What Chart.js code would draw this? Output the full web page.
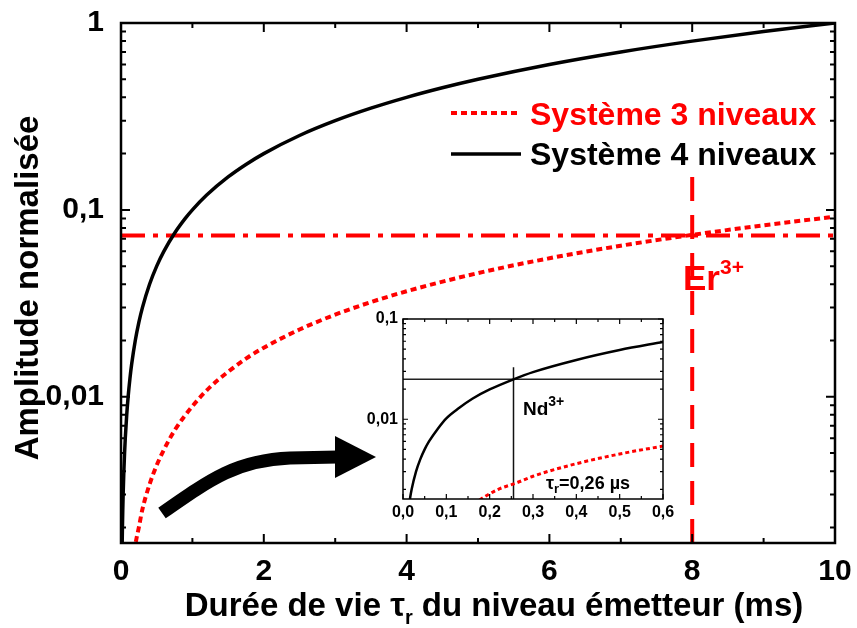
<!DOCTYPE html>
<html>
<head>
<meta charset="utf-8">
<script src="https://cdn.jsdelivr.net/npm/chart.js@4/dist/chart.umd.min.js"></script>
<style>
  body { margin: 0; background: #fff; }
  #wrap { position: relative; width: 857px; height: 628px; }
  #mainChart { position: absolute; left: 0; top: 0; }
  #insetChart { position: absolute; left: 360px; top: 305px; }
</style>
</head>
<body>
<div id="wrap">
  <canvas id="mainChart" width="857" height="628"></canvas>
  <canvas id="insetChart" width="320" height="225"></canvas>
</div>
<script>
// main plot : lifetime (ms) vs normalised amplitude
const tau4 = [0.012, 0.015, 0.02, 0.025, 0.03, 0.04, 0.05, 0.06, 0.08, 0.1, 0.125, 0.15, 0.2, 0.25, 0.3, 0.4, 0.5, 0.6, 0.75, 0.9, 1, 1.2, 1.5, 1.75, 2, 2.5, 3, 3.5, 4, 4.5, 5, 6, 7, 8, 9, 10];
const amp4 = [0.0012, 0.0015, 0.002, 0.0025, 0.003, 0.004, 0.005, 0.006, 0.008, 0.01, 0.0125, 0.015, 0.02, 0.025, 0.03, 0.04, 0.05, 0.06, 0.075, 0.09, 0.1, 0.12, 0.15, 0.175, 0.2, 0.25, 0.3, 0.35, 0.4, 0.45, 0.5, 0.6, 0.7, 0.8, 0.9, 1];
const tau3 = [0.12, 0.15, 0.2, 0.25, 0.3, 0.4, 0.5, 0.6, 0.75, 1, 1.25, 1.5, 1.75, 2, 2.5, 3, 3.5, 4, 5, 6, 7, 8, 9, 10];
const amp3 = [0.0008, 0.0011, 0.0016, 0.002, 0.0025, 0.0034, 0.0043, 0.0052, 0.0066, 0.0089, 0.0113, 0.0136, 0.016, 0.0183, 0.0229, 0.0275, 0.0321, 0.0367, 0.0459, 0.0551, 0.0643, 0.0735, 0.0827, 0.092];
const erLevel = 0.073;   // horizontal dash-dot line
const erTau = 8;         // vertical dashed line
const erTop = 0.15;
const xTicksMain = [0, 2, 4, 6, 8, 10];
const yTicksMain = [0.01, 0.1, 1];
const seriesLabels = ['Système 3 niveaux', 'Système 4 niveaux'];

// inset : zoom on the first 0.6
const tauIn4 = [0.012, 0.016, 0.02, 0.03, 0.04, 0.05, 0.06, 0.08, 0.1, 0.13, 0.16, 0.2, 0.255, 0.3, 0.4, 0.5, 0.6];
const ampIn4 = [0.0012, 0.0016, 0.002, 0.003, 0.004, 0.005, 0.006, 0.008, 0.0102, 0.013, 0.016, 0.0198, 0.025, 0.0295, 0.039, 0.049, 0.059];
const tauIn3 = [0.15, 0.18, 0.22, 0.26, 0.3, 0.4, 0.5, 0.6];
const ampIn3 = [0.0013, 0.0016, 0.002, 0.0023, 0.0027, 0.0036, 0.0045, 0.0054];
const ndLevel = 0.025;
const ndTau = 0.255;
const ndTop = 0.033;
const xTicksInset = [0, 0.1, 0.2, 0.3, 0.4, 0.5, 0.6];
const yTicksInset = [0.01, 0.1];

const FONT = '"Liberation Sans", Arial, sans-serif';
const RED = '#ff0000';

function pts(xs, ys) {
  return xs.map((x, i) => ({x: x, y: ys[i]}));
}
function comma(v) {
  return String(v).replace('.', ',');
}
// fixed axis size, no extra room asked for the end labels
function fixX(h) {
  return s => { s.height = h; s.paddingLeft = 0; s.paddingRight = 0; };
}
function fixY(w) {
  return s => { s.width = w; s.paddingTop = 0; s.paddingBottom = 0; };
}

// box + inward ticks on all four sides
function frameTicks(o) {
  return {
    id: 'frameTicks',
    beforeDatasetsDraw(chart) {
      if (!o.fill) return;
      const a = chart.chartArea;
      chart.ctx.save();
      chart.ctx.fillStyle = '#fff';
      chart.ctx.fillRect(a.left, a.top, a.right - a.left, a.bottom - a.top);
      chart.ctx.restore();
    },
    afterDatasetsDraw(chart) {
      const {ctx, chartArea: a, scales: {x, y}} = chart;
      ctx.save();
      ctx.strokeStyle = '#000';
      ctx.lineWidth = o.lw;
      ctx.beginPath();
      for (let i = 0; i <= Math.round((x.max - x.min) / o.xStep); i++) {
        const v = x.min + i * o.xStep;
        const len = (i % o.xEvery === 0) ? o.big : o.small;
        const px = x.getPixelForValue(v);
        ctx.moveTo(px, a.bottom); ctx.lineTo(px, a.bottom - len);
        ctx.moveTo(px, a.top); ctx.lineTo(px, a.top + len);
      }
      for (let d = 0.0001; d < 10; d *= 10) {
        for (let k = 1; k <= 9; k++) {
          const v = k * d;
          if (v < y.min || v > y.max * 1.0001) continue;
          const len = k === 1 ? o.big : o.small;
          const py = y.getPixelForValue(v);
          ctx.moveTo(a.left, py); ctx.lineTo(a.left + len, py);
          ctx.moveTo(a.right, py); ctx.lineTo(a.right - len, py);
        }
      }
      ctx.stroke();
      ctx.lineWidth = o.frame;
      ctx.strokeRect(a.left, a.top, a.right - a.left, a.bottom - a.top);
      ctx.restore();
    }
  };
}

// text with a superscript or subscript part
function richText(ctx, parts, x, y, align) {
  let w = 0;
  parts.forEach(p => { ctx.font = p.font; w += ctx.measureText(p.t).width; });
  let cx = align === 'center' ? x - w / 2 : x;
  parts.forEach(p => {
    ctx.font = p.font;
    ctx.fillText(p.t, cx, y + (p.dy || 0));
    cx += ctx.measureText(p.t).width;
  });
}

const decorations = {
  id: 'decorations',
  afterDraw(chart) {
    const ctx = chart.ctx;
    const ds = chart.data.datasets;
    ctx.save();
    ctx.textBaseline = 'alphabetic';
    ctx.textAlign = 'left';

    // legend
    const rows = [[ds[0], 113, 125], [ds[1], 154, 165]];
    rows.forEach(([d, ly, ty]) => {
      ctx.strokeStyle = d.borderColor;
      ctx.lineWidth = d.borderWidth;
      ctx.setLineDash(d.borderDash || []);
      ctx.beginPath();
      ctx.moveTo(451, ly); ctx.lineTo(521, ly);
      ctx.stroke();
      ctx.setLineDash([]);
      ctx.fillStyle = d.borderColor;
      ctx.font = 'bold 32px ' + FONT;
      ctx.fillText(d.label, 530, ty);
    });

    // Er3+
    ctx.fillStyle = RED;
    richText(ctx, [
      {t: 'Er', font: 'bold 35px ' + FONT},
      {t: '3+', font: 'bold 21px ' + FONT, dy: -16}
    ], 683, 290, 'left');

    // arrow pointing to the inset
    ctx.strokeStyle = '#000';
    ctx.fillStyle = '#000';
    ctx.lineWidth = 13;
    ctx.beginPath();
    ctx.moveTo(162, 513);
    ctx.bezierCurveTo(212, 478, 238, 460, 290, 458);
    ctx.lineTo(338, 457);
    ctx.stroke();
    ctx.beginPath();
    ctx.moveTo(335, 436);
    ctx.lineTo(376, 457);
    ctx.lineTo(335, 478);
    ctx.closePath();
    ctx.fill();

    // axis titles
    ctx.fillStyle = '#000';
    richText(ctx, [
      {t: 'Durée de vie τ', font: 'bold 33px ' + FONT},
      {t: 'r', font: 'bold 20px ' + FONT, dy: 8},
      {t: ' du niveau émetteur (ms)', font: 'bold 33px ' + FONT}
    ], 494, 616, 'center');
    ctx.save();
    ctx.translate(38, 288);
    ctx.rotate(-Math.PI / 2);
    ctx.font = 'bold 33px ' + FONT;
    ctx.textAlign = 'center';
    ctx.fillText('Amplitude normalisée', 0, 0);
    ctx.restore();
    ctx.restore();
  }
};

const insetText = {
  id: 'insetText',
  afterDraw(chart) {
    const ctx = chart.ctx;
    ctx.save();
    ctx.fillStyle = '#000';
    ctx.textBaseline = 'alphabetic';
    richText(ctx, [
      {t: 'Nd', font: 'bold 19px ' + FONT},
      {t: '3+', font: 'bold 14px ' + FONT, dy: -9}
    ], 163, 110, 'left');
    richText(ctx, [
      {t: 'τ', font: 'bold 18px ' + FONT},
      {t: 'r', font: 'bold 13px ' + FONT, dy: 4},
      {t: '=0,26 µs', font: 'bold 18px ' + FONT}
    ], 186, 184, 'left');
    ctx.restore();
  }
};

function initMain() {
  new Chart(document.getElementById('mainChart'), {
    type: 'line',
    data: {
      datasets: [{
        label: seriesLabels[0],
        data: pts(tau3, amp3),
        borderColor: RED,
        borderWidth: 4,
        borderDash: [6, 4],
        cubicInterpolationMode: 'monotone',
        pointRadius: 0,
        clip: 0
      }, {
        label: seriesLabels[1],
        data: pts(tau4, amp4),
        borderColor: '#000',
        borderWidth: 3.5,
        cubicInterpolationMode: 'monotone',
        pointRadius: 0,
        clip: 0
      }, {
        label: 'Er level',
        data: [{x: 0, y: erLevel}, {x: 10, y: erLevel}],
        borderColor: RED,
        borderWidth: 4,
        borderDash: [24, 8, 5, 8],
        pointRadius: 0,
        clip: 0
      }, {
        label: 'Er tau',
        data: [{x: erTau, y: erTop}, {x: erTau, y: 0.001}],
        borderColor: RED,
        borderWidth: 4,
        borderDash: [24, 14],
        pointRadius: 0,
        clip: 0
      }]
    },
    options: {
      responsive: false,
      animation: false,
      layout: {padding: {top: 23, right: 22, left: 0, bottom: 0}},
      plugins: {legend: {display: false}, tooltip: {enabled: false}},
      scales: {
        x: {
          type: 'linear',
          min: 0, max: 10,
          afterBuildTicks: s => { s.ticks = xTicksMain.map(v => ({value: v})); },
          afterFit: fixX(85),
          grid: {display: false, drawTicks: false},
          border: {display: false},
          ticks: {color: '#000', padding: 11, maxRotation: 0, font: {family: FONT, size: 30, weight: 'bold'}}
        },
        y: {
          type: 'logarithmic',
          min: 0.00165, max: 1,
          afterBuildTicks: s => { s.ticks = yTicksMain.map(v => ({value: v})); },
          afterFit: fixY(121),
          grid: {display: false, drawTicks: false},
          border: {display: false},
          ticks: {color: '#000', padding: 17, callback: v => comma(v), font: {family: FONT, size: 30, weight: 'bold'}}
        }
      }
    },
    plugins: [frameTicks({lw: 2, frame: 2.5, big: 9, small: 5, xStep: 1, xEvery: 2}), decorations]
  });
}

function initInset() {
  new Chart(document.getElementById('insetChart'), {
    type: 'line',
    data: {
      datasets: [{
        label: seriesLabels[1],
        data: pts(tauIn4, ampIn4),
        borderColor: '#000',
        borderWidth: 2.5,
        cubicInterpolationMode: 'monotone',
        pointRadius: 0,
        clip: 0
      }, {
        label: seriesLabels[0],
        data: pts(tauIn3, ampIn3),
        borderColor: RED,
        borderWidth: 3,
        borderDash: [4, 3],
        cubicInterpolationMode: 'monotone',
        pointRadius: 0,
        clip: 0
      }, {
        label: 'Nd level',
        data: [{x: 0, y: ndLevel}, {x: 0.6, y: ndLevel}],
        borderColor: '#222',
        borderWidth: 1.5,
        pointRadius: 0,
        clip: 0
      }, {
        label: 'Nd tau',
        data: [{x: ndTau, y: ndTop}, {x: ndTau, y: 0.001}],
        borderColor: '#111',
        borderWidth: 1.5,
        pointRadius: 0,
        clip: 0
      }]
    },
    options: {
      responsive: false,
      animation: false,
      layout: {padding: {top: 14, right: 17, left: 0, bottom: 0}},
      plugins: {legend: {display: false}, tooltip: {enabled: false}},
      scales: {
        x: {
          type: 'linear',
          min: 0, max: 0.6,
          afterBuildTicks: s => { s.ticks = xTicksInset.map(v => ({value: v})); },
          afterFit: fixX(31),
          grid: {display: false, drawTicks: false},
          border: {display: false},
          ticks: {color: '#000', padding: 4, maxRotation: 0, callback: v => v.toFixed(1).replace('.', ','), font: {family: FONT, size: 16, weight: 'bold'}}
        },
        y: {
          type: 'logarithmic',
          min: 0.0016, max: 0.1,
          afterBuildTicks: s => { s.ticks = yTicksInset.map(v => ({value: v})); },
          afterFit: fixY(43),
          grid: {display: false, drawTicks: false},
          border: {display: false},
          ticks: {color: '#000', padding: 5, callback: v => comma(v), font: {family: FONT, size: 16, weight: 'bold'}}
        }
      }
    },
    plugins: [frameTicks({lw: 1.2, frame: 1.5, big: 5, small: 3, xStep: 0.05, xEvery: 2, fill: true}), insetText]
  });
}

document.addEventListener('DOMContentLoaded', () => {
  initMain();
  initInset();
});
</script>
</body>
</html>
